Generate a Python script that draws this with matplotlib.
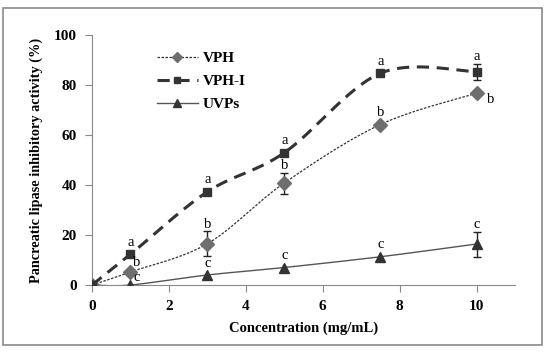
import numpy as np
import matplotlib.pyplot as plt
from matplotlib.patches import Rectangle

conc = [0, 1, 3, 5, 7.5, 10]
vph = [0, 5.2, 16.5, 40.8, 64.2, 76.7]
vph_err = [0, 0, 5.0, 4.2, 0, 0]
vph_i = [0, 12.3, 37.3, 52.9, 84.7, 85.3]
vph_i_err = [0, 0, 0, 0, 0, 3.2]
uvps = [0, 0, 4.0, 7.0, 11.3, 16.4]
uvps_err = [0, 0, 0, 0, 0, 5.0]
lab_vph = ['', 'b', 'b', 'b', 'b', 'b']
lab_vph_i = ['', 'a', 'a', 'a', 'a', 'a']
lab_uvps = ['', 'c', 'c', 'c', 'c', 'c']

plt.rcParams['font.family'] = ['Liberation Serif', 'DejaVu Serif']


def smooth(x, y, sx=38.5, sy=2.5, n=30):
    # Excel-style smoothed line (Catmull-Rom bezier in screen units)
    p = np.column_stack([np.asarray(x, float) * sx, np.asarray(y, float) * sy])
    out = [p[0]]
    for i in range(len(p) - 1):
        p0 = p[i - 1] if i > 0 else p[i]
        p3 = p[i + 2] if i + 2 < len(p) else p[i + 1]
        c1 = p[i] + (p[i + 1] - p0) / 6
        c2 = p[i + 1] - (p3 - p[i]) / 6
        t = np.linspace(0, 1, n)[1:, None]
        b = ((1 - t) ** 3) * p[i] + 3 * ((1 - t) ** 2) * t * c1 + 3 * (1 - t) * t ** 2 * c2 + t ** 3 * p[i + 1]
        out.extend(b)
    out = np.array(out)
    return out[:, 0] / sx, out[:, 1] / sy


def bars(ax, y, err):
    idx = [i for i, e in enumerate(err) if e > 0]
    ax.errorbar([conc[i] for i in idx], [y[i] for i in idx], yerr=[err[i] for i in idx],
                fmt='none', ecolor='#222222', elinewidth=1, capsize=3, capthick=1, zorder=2)


fig = plt.figure(figsize=(5.5, 3.55), dpi=100)
ax = fig.add_axes([92 / 550, 1 - 285 / 355, (515 - 92) / 550, (285 - 35) / 355])
fig.patches.append(Rectangle((3 / 550, 1 - 345 / 355), 539 / 550, 337 / 355,
                             transform=fig.transFigure, fill=False,
                             edgecolor='#8a8a8a', linewidth=1.2))

sx, sy = smooth(conc, vph)
ax.plot(sx, sy, color='#333333', linestyle=(0, (2, 1.2)), linewidth=0.9)
bars(ax, vph, vph_err)
ax.plot(conc, vph, linestyle='none', marker='D', markersize=7, color='#6e6e6e', zorder=3)

sx, sy = smooth(conc, vph_i)
ax.plot(sx, sy, color='#333333', linestyle=(0, (4, 2.5)), linewidth=2.2)
bars(ax, vph_i, vph_i_err)
ax.plot(conc, vph_i, linestyle='none', marker='s', markersize=6, color='#333333', zorder=3)

sx, sy = smooth(conc, uvps)
ax.plot(sx, sy, color='#555555', linewidth=1)
bars(ax, uvps, uvps_err)
ax.plot(conc, uvps, linestyle='none', marker='^', markersize=7, color='#333333', zorder=3)


def letter(text, x, y, err, off=None, ha='center'):
    if off is None:
        off = (0, 2.5) if err > 0 else (0, 6)
    ax.annotate(text, (x, y + err), xytext=off, textcoords='offset points',
                ha=ha, va='baseline', fontsize=10.5)


# significance letters
for i, x in enumerate(conc):
    if lab_vph_i[i]:
        letter(lab_vph_i[i], x, vph_i[i], vph_i_err[i])
    if lab_vph[i]:
        if x == 10:
            letter(lab_vph[i], x, vph[i], 0, (7.5, -7), 'left')
        elif x == 1:
            letter(lab_vph[i], x, vph[i], 0, (1.5, 4.5), 'left')
        else:
            letter(lab_vph[i], x, vph[i], vph_err[i])
    if lab_uvps[i]:
        if x == 1:
            letter(lab_uvps[i], x, uvps[i], 0, (2, 3), 'left')
        else:
            letter(lab_uvps[i], x, uvps[i], uvps_err[i])

# legend
h1, = ax.plot([], [], color='#333333', linestyle=(0, (2, 1.2)), linewidth=0.9,
              marker='D', markersize=5, markerfacecolor='#6e6e6e', markeredgecolor='#6e6e6e')
h2, = ax.plot([], [], color='#333333', linestyle=(0, (4, 2.5)), linewidth=2.2,
              marker='s', markersize=5)
h3, = ax.plot([], [], color='#555555', linewidth=1, marker='^', markersize=6,
              markerfacecolor='#333333', markeredgecolor='#333333')
leg = ax.legend([h1, h2, h3], ['VPH', 'VPH-I', 'UVPs'], loc='upper left',
                bbox_to_anchor=(143 / 550, 1 - 38 / 355), bbox_transform=fig.transFigure,
                frameon=False, handlelength=2.7, handletextpad=0.3, labelspacing=0.6,
                prop={'weight': 'bold', 'size': 11})

ax.set_xlim(0, 11)
ax.set_ylim(0, 100)
ax.set_xticks([0, 2, 4, 6, 8, 10])
ax.set_yticks([0, 20, 40, 60, 80, 100])
for s in ['top', 'right']:
    ax.spines[s].set_visible(False)
for s in ['left', 'bottom']:
    ax.spines[s].set_color('#888888')
ax.tick_params(direction='out', length=5, color='#888888', labelsize=11, pad=6)
for t in ax.get_xticklabels() + ax.get_yticklabels():
    t.set_fontweight('bold')
ax.set_xlabel('Concentration (mg/mL)', fontweight='bold', fontsize=10.5, labelpad=6)
ax.set_ylabel('Pancreatic lipase inhibitory activity (%)', fontweight='bold', fontsize=10.3,
              labelpad=8)

plt.savefig('out.png', dpi=100)
